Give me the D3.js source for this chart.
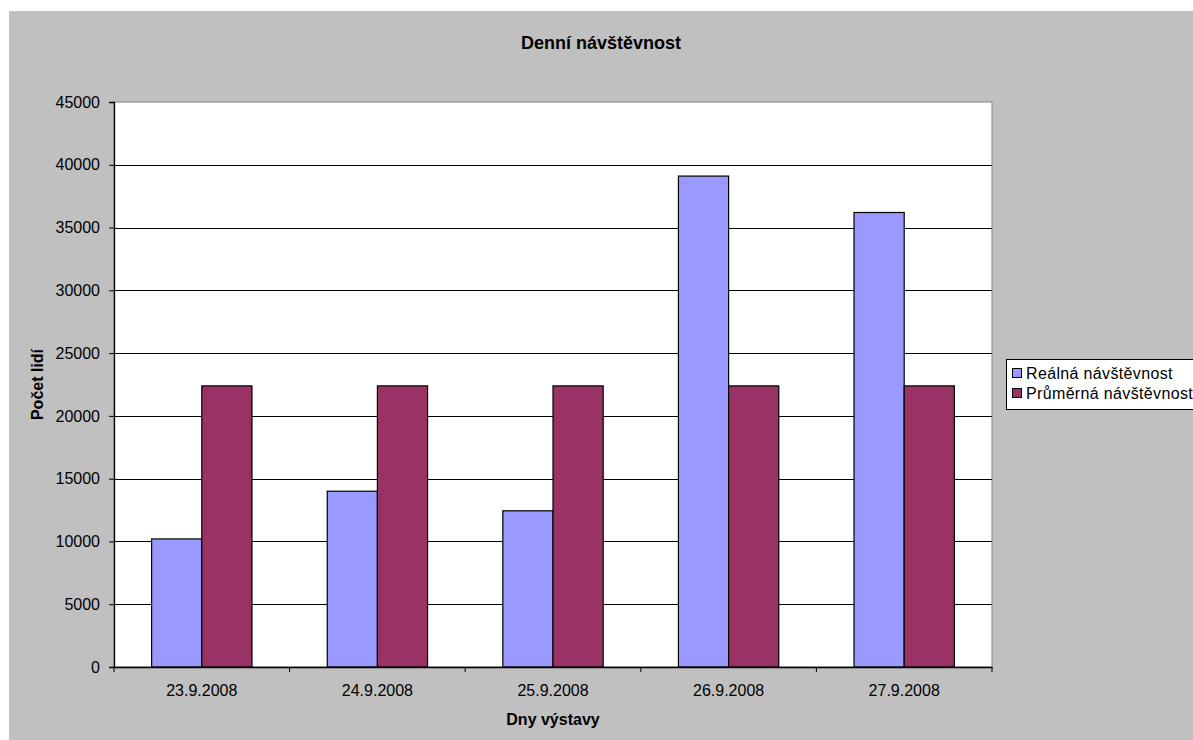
<!DOCTYPE html>
<html>
<head>
<meta charset="utf-8">
<script src="https://cdn.jsdelivr.net/npm/d3@7"></script>
<style>
  html, body { margin: 0; padding: 0; background: #ffffff; }
  svg { display: block; font-family: "Liberation Sans", Arial, sans-serif; }
</style>
</head>
<body>
<svg id="chart" width="1193" height="740"></svg>
<script>
// Daily attendance per exhibition day
const days = ["23.9.2008", "24.9.2008", "25.9.2008", "26.9.2008", "27.9.2008"];
const seriesNames = ["Reálná návštěvnost", "Průměrná návštěvnost"];
const realVisits = [10200, 14000, 12440, 39100, 36200];
const averageVisits = [22390, 22390, 22390, 22390, 22390];
const yTicks = [0, 5000, 10000, 15000, 20000, 25000, 30000, 35000, 40000, 45000];
const seriesColors = ["#9999FF", "#993366"];

const svg = d3.select("#chart");

// chart area background
svg.append("rect")
  .attr("x", 9).attr("y", 11)
  .attr("width", 1184).attr("height", 729)
  .attr("fill", "#C0C0C0");

const plot = { left: 114, right: 992, top: 102, bottom: 667 };

const x0 = d3.scaleBand()
  .domain(days)
  .range([plot.left, plot.right])
  .paddingInner(0).paddingOuter(0);

const x1 = d3.scaleBand()
  .domain(seriesNames)
  .range([0, x0.bandwidth()])
  .paddingInner(0)
  .paddingOuter(0.75);

const y = d3.scaleLinear()
  .domain([0, 45000])
  .range([plot.bottom, plot.top]);

// plot area
svg.append("rect")
  .attr("x", plot.left).attr("y", plot.top)
  .attr("width", plot.right - plot.left)
  .attr("height", plot.bottom - plot.top)
  .attr("fill", "#ffffff")
  .attr("stroke", "#808080")
  .attr("stroke-width", 1);

// horizontal gridlines
svg.append("g")
  .selectAll("line")
  .data(yTicks.filter(t => t > 0 && t < 45000))
  .join("line")
  .attr("x1", plot.left).attr("x2", plot.right)
  .attr("y1", d => Math.round(y(d)) + 0.5)
  .attr("y2", d => Math.round(y(d)) + 0.5)
  .attr("stroke", "#000")
  .attr("stroke-width", 1);

// bars
const rows = days.map((d, i) => ({
  day: d,
  values: [
    { name: seriesNames[0], value: realVisits[i] },
    { name: seriesNames[1], value: averageVisits[i] }
  ]
}));

svg.append("g")
  .selectAll("g")
  .data(rows)
  .join("g")
  .attr("transform", d => `translate(${x0(d.day)},0)`)
  .selectAll("rect")
  .data(d => d.values)
  .join("rect")
  .attr("x", d => x1(d.name))
  .attr("y", d => y(d.value))
  .attr("width", x1.bandwidth())
  .attr("height", d => y(0) - y(d.value))
  .attr("fill", (d, i) => seriesColors[i])
  .attr("stroke", "#000")
  .attr("stroke-width", 1.2);

// y axis
const yAxis = svg.append("g")
  .attr("transform", `translate(${plot.left},0)`)
  .call(d3.axisLeft(y).tickValues(yTicks).tickFormat(d3.format("d")).tickSize(5).tickPadding(9));
yAxis.select(".domain").attr("stroke", "#000").attr("stroke-width", 1.3);
yAxis.selectAll(".tick line").attr("stroke", "#000");
yAxis.selectAll(".tick text")
  .attr("font-size", 16)
  .attr("font-family", "Liberation Sans, Arial, sans-serif")
  .attr("fill", "#000");

// x axis with ticks on category boundaries
const xAxis = svg.append("g")
  .attr("transform", `translate(0,${plot.bottom})`)
  .call(d3.axisBottom(x0).tickSize(0).tickPadding(18));
xAxis.select(".domain").attr("stroke", "#000").attr("stroke-width", 1.3);
xAxis.selectAll(".tick text")
  .attr("font-size", 16)
  .attr("font-family", "Liberation Sans, Arial, sans-serif")
  .attr("fill", "#000");
xAxis.append("g")
  .selectAll("line")
  .data(days.map(d => x0(d)).concat([plot.right]))
  .join("line")
  .attr("x1", d => d).attr("x2", d => d)
  .attr("y1", 0).attr("y2", 5)
  .attr("stroke", "#000");

// titles
svg.append("text")
  .attr("x", 601).attr("y", 49)
  .attr("text-anchor", "middle")
  .attr("font-size", 18).attr("font-weight", "bold")
  .text("Denní návštěvnost");

svg.append("text")
  .attr("x", (plot.left + plot.right) / 2).attr("y", 725)
  .attr("text-anchor", "middle")
  .attr("font-size", 16).attr("font-weight", "bold")
  .text("Dny výstavy");

svg.append("text")
  .attr("transform", `translate(43,${(plot.top + plot.bottom) / 2}) rotate(-90)`)
  .attr("text-anchor", "middle")
  .attr("font-size", 16).attr("font-weight", "bold")
  .text("Počet lidí");

// legend (runs past the right edge of the chart area)
const legend = svg.append("g").attr("transform", "translate(1006,359)");
legend.append("rect")
  .attr("x", 0.5).attr("y", 0.5)
  .attr("width", 230).attr("height", 50)
  .attr("fill", "#ffffff")
  .attr("stroke", "#000");
const items = legend.selectAll("g.item")
  .data(seriesNames)
  .join("g")
  .attr("class", "item")
  .attr("transform", (d, i) => `translate(0,${14 + i * 20})`);
items.append("rect")
  .attr("x", 6.5).attr("y", -4.5)
  .attr("width", 9).attr("height", 9)
  .attr("fill", (d, i) => seriesColors[i])
  .attr("stroke", "#000");
items.append("text")
  .attr("x", 20).attr("y", 6)
  .attr("font-size", 16)
  .attr("letter-spacing", 0.35)
  .text(d => d);
</script>
</body>
</html>
